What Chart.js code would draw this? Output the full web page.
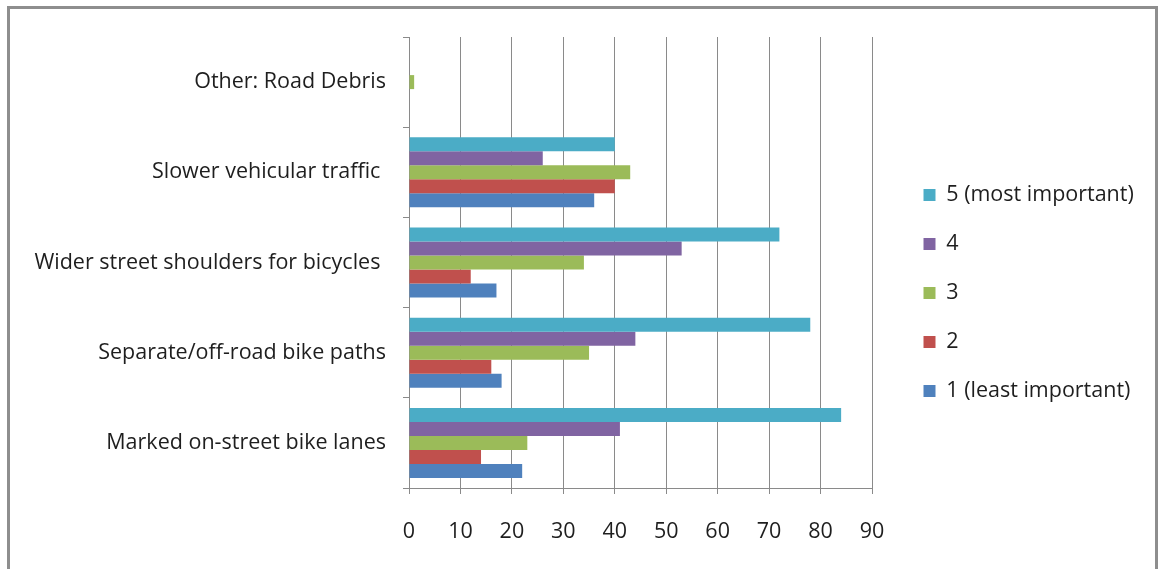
<!DOCTYPE html>
<html>
<head>
<meta charset="utf-8">
<script src="https://cdn.jsdelivr.net/npm/chart.js@4.4.1/dist/chart.umd.min.js"></script>
<style>
  html, body { margin: 0; padding: 0; background: #fff; overflow: hidden; }
  #wrap { position: relative; width: 1158px; height: 569px; }
  #frame { position: absolute; left: 7px; top: 6px; width: 1151px; height: 620px; border: 3px solid #8e8e8e; box-sizing: border-box; pointer-events: none; }
  canvas { position: absolute; left: 0; top: 0; }
</style>
</head>
<body>
<div id="wrap">
  <canvas id="chart" width="1158" height="569"></canvas>
  <div id="frame"></div>
</div>
<script>
// categories, top to bottom as drawn
const categories = [
    'Other: Road Debris',
    'Slower vehicular traffic ',
    'Wider street shoulders for bicycles ',
    'Separate/off-road bike paths',
    'Marked on-street bike lanes'
];
const seriesNames = ['5 (most important)', '4', '3', '2', '1 (least important)'];
const seriesColors = ['#4BACC6', '#8064A2', '#9BBB59', '#C0504D', '#4F81BD'];

// counts per importance level
const level5 = [0, 40, 72, 78, 84];
const level4 = [0, 26, 53, 44, 41];
const level3 = [1, 43, 34, 35, 23];
const level2 = [0, 40, 12, 16, 14];
const level1 = [0, 36, 17, 18, 22];

const xTicks = [0, 10, 20, 30, 40, 50, 60, 70, 80, 90];

const FONT = '"Open Sans", Lato, sans-serif';
const FONT_SIZE = 21.5;
const TEXT = '#1e1e1e';
const GRID = '#8a8a8a';

// keep legend a fixed width and nudge it right of the plot
const legendPlacer = {
    id: 'legendPlacer',
    beforeLayout(chart) {
        const lg = chart.legend;
        if (!lg || lg._fixed) return;
        const origFit = lg.fit;
        lg.fit = function () {
            origFit.call(this);
            this.width = 286;
        };
        lg._fixed = true;
    },
    afterLayout(chart) {
        const lg = chart.legend;
        lg.left += 24;
        lg.right += 24;
        lg.top += 2;
        lg.bottom += 2;
    }
};

document.addEventListener('DOMContentLoaded', function () {
    const ctx = document.getElementById('chart');
    const allSeries = [level5, level4, level3, level2, level1];

    new Chart(ctx, {
        type: 'bar',
        data: {
            labels: categories,
            datasets: allSeries.map((vals, i) => ({
                label: seriesNames[i],
                data: vals,
                backgroundColor: seriesColors[i],
                borderWidth: 0,
                barPercentage: 1,
                categoryPercentage: 0.776
            }))
        },
        options: {
            indexAxis: 'y',
            responsive: false,
            animation: false,
            layout: { padding: { left: 0, top: 37, right: 0, bottom: 24 } },
            plugins: {
                tooltip: { enabled: false },
                legend: {
                    position: 'right',
                    align: 'center',
                    labels: {
                        boxWidth: 12,
                        boxHeight: 12,
                        padding: 27.5,
                        color: TEXT,
                        font: { family: FONT, size: FONT_SIZE }
                    }
                }
            },
            scales: {
                x: {
                    min: 0,
                    max: 90,
                    afterBuildTicks(scale) {
                        scale.ticks = xTicks.map(v => ({ value: v }));
                    },
                    afterFit(scale) { scale.height = 57; },
                    grid: { color: GRID, lineWidth: 1, tickLength: 6, drawTicks: true },
                    border: { color: GRID, width: 1 },
                    ticks: { padding: 25, color: TEXT, font: { family: FONT, size: FONT_SIZE } }
                },
                y: {
                    afterFit(scale) { scale.width = 409; },
                    grid: { drawOnChartArea: false, drawTicks: true, tickLength: 6, color: GRID, offset: true },
                    border: { color: GRID, width: 1 },
                    ticks: { padding: 17, color: TEXT, font: { family: FONT, size: FONT_SIZE } }
                }
            }
        },
        plugins: [legendPlacer]
    });
});
</script>
</body>
</html>
